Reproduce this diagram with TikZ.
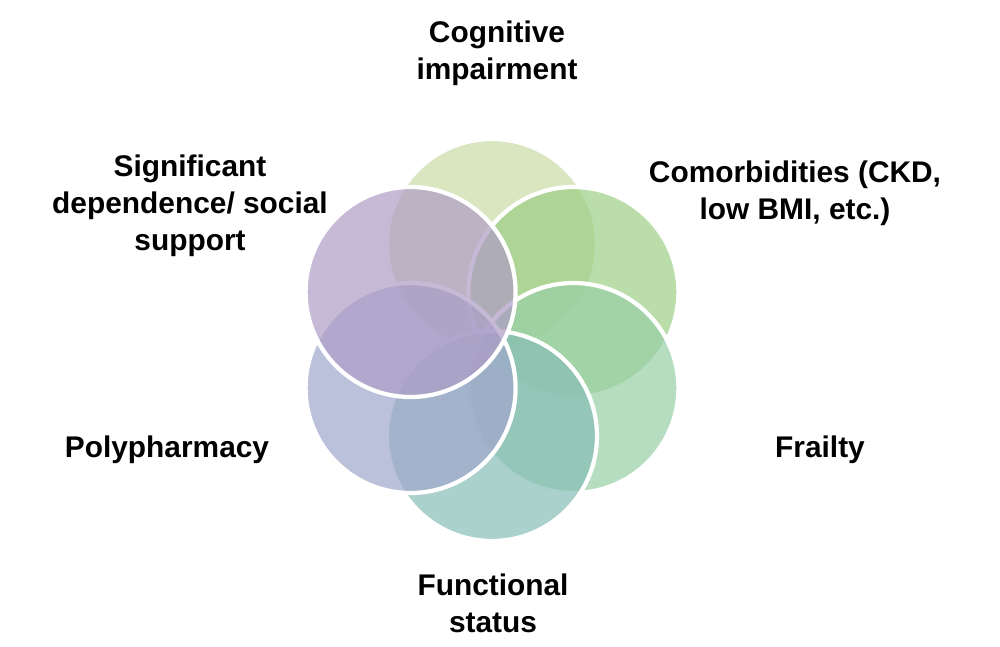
\documentclass[tikz,border=0pt]{standalone}
\usepackage{fontspec}
\setmainfont{Liberation Sans}
\usetikzlibrary{positioning, calc}
\definecolor{cogn}{HTML}{C9DCA4}
\definecolor{comor}{HTML}{9CCF86}
\definecolor{frail}{HTML}{98CFA6}
\definecolor{funct}{HTML}{86BDB6}
\definecolor{polyp}{HTML}{9FA6CC}
\definecolor{depen}{HTML}{AE9CC6}
\begin{document}
\begin{tikzpicture}[x=0.02cm, y=-0.02cm,
    petal/.style={draw=white, line width=2.4pt, fill opacity=0.7},
    label/.style={font=\fontsize{17}{21}\selectfont\bfseries, align=center}
]
    \useasboundingbox (0,0) rectangle (1000,646);
    % rosette of circles
    \coordinate (hub) at (492,340);
    \foreach \ang/\col in {90/cogn, 30/comor, -30/frail, -90/funct, -150/polyp, 150/depen}
        \filldraw[petal, fill=\col] ($(hub)+(\ang:94 and -96)$) circle (105);
    % labels
    \node[label] (cognitive) at (497,53) {Cognitive\\impairment};
    \node[label] (comorbid) at (795,193) {Comorbidities (CKD,\\low BMI, etc.)};
    \node[label] (depend) at (190,206) {Significant\\dependence/ social\\support};
    \node[label] (poly) at (167,450) {Polypharmacy};
    \node[label] (frailty) at (820,450) {Frailty};
    \node[label] (functional) at (493,603) {Functional\\status};
\end{tikzpicture}
\end{document}
